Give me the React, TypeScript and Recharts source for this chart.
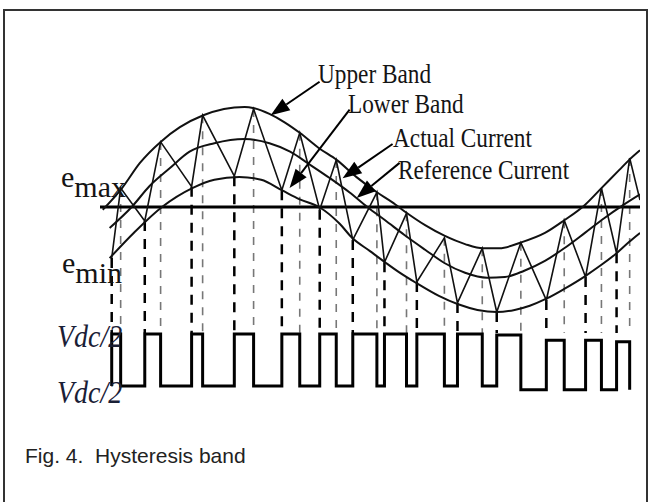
import React from 'react';
import { ComposedChart, Line, XAxis, YAxis, ReferenceLine } from 'recharts';

// x: phase angle in degrees, y: current in A
const upperBand: [number, number][] = [
  [-13, -0.4], [1, 2.7], [14, 6.3], [29, 9.3], [43, 11.4], [60, 13.1], [75, 14.0],
  [90, 14.3], [97, 14.1], [108, 13.3], [119, 12.1], [130, 10.6], [144, 8.4], [157, 6.7],
  [171, 4.3], [186, 2.1], [197, 0.7], [208, -0.9], [221, -2.6], [235, -4.1], [250, -5.3],
  [263, -5.9], [275, -5.9], [290, -5.1], [308, -3.7], [322, -1.9], [337, 0.3], [349, 2.7],
  [362, 5.3], [369, 6.7], [377, 8.1],
];

const referenceCurrent: [number, number][] = [
  [-8, -3.0], [8, 0], [21, 3.0], [36, 5.6], [50, 7.9], [68, 9.1], [90, 9.7], [108, 9.1],
  [123, 7.9], [137, 6.1], [152, 4.1], [166, 2.1], [179, 0], [192, -1.9], [206, -4.0],
  [221, -6.1], [235, -8.0], [250, -9.4], [266, -10.1], [279, -10.0], [293, -9.1],
  [308, -7.7], [322, -5.9], [337, -3.7], [351, -1.6], [365, 0.3], [377, 1.8],
];

const lowerBand: [number, number][] = [
  [-8, -7.3], [10, -3.6], [30, 0], [52, 2.7], [68, 3.9], [86, 4.3], [102, 3.9], [117, 2.4],
  [130, 1.1], [144, 0], [159, -2.4], [168, -4.4], [181, -6.3], [192, -7.9], [202, -9.3],
  [215, -10.9], [231, -12.7], [245, -13.9], [259, -14.7], [273, -15.0], [286, -14.7],
  [297, -14.1], [309, -13.1], [322, -11.7], [337, -9.9], [348, -8.4], [360, -6.6],
  [369, -5.0], [377, -3.7],
];

// actual current: alternating lower / upper switching points
const actualCurrent: [number, number][] = [
  [-6.5, -7.3], [0, 2.7], [17.5, -2.0], [29, 9.3], [51.5, 2.9], [59.5, 13.1], [82.5, 4.4],
  [96.5, 14.0], [117, 2.4], [130, 10.6], [144.5, -0.4], [156.5, 6.7], [168.5, -4.7],
  [186, 2.1], [191.5, -7.9], [207.5, -0.9], [215, -10.7], [235, -4.4], [244.5, -13.7],
  [262.5, -5.9], [273, -15.0], [290.5, -5.1], [309, -13.3], [322, -1.9], [337.5, -10.0],
  [349, 2.7], [360, -6.6], [369.5, 7.0], [377, 1.0],
];

// inverter output (1 = +Vdc/2, 0 = -Vdc/2)
const switchState: [number, number][] = [
  [-6.5, 0], [-6.5, 1], [0, 0], [17.5, 1], [29, 0], [51.5, 1], [59.5, 0], [82.5, 1],
  [96.5, 0], [117, 1], [130, 0], [144.5, 1], [156.5, 0], [168.5, 1], [186, 0], [191.5, 1],
  [207.5, 0], [215, 1], [235, 0], [244.5, 1], [262.5, 0], [273, 0.98], [290.5, -0.07],
  [309, 0.88], [322, -0.07], [337.5, 0.88], [349, -0.07], [360, 0.85], [369.5, -0.07],
];

const DROP_TO = -18;

const toPts = (arr: [number, number][]) => arr.map(([x, v]) => ({ x, v }));

const Arrow = (props: any) => {
  const { x1, y1, x2, y2 } = props;
  const a = Math.atan2(y2 - y1, x2 - x1);
  const len = 19;
  const hw = 7;
  const bx = x2 - len * Math.cos(a);
  const by = y2 - len * Math.sin(a);
  const pts = `${x2},${y2} ${bx + hw * Math.sin(a)},${by - hw * Math.cos(a)} ${bx - hw * Math.sin(a)},${by + hw * Math.cos(a)}`;
  return (
    <g>
      <line x1={x1} y1={y1} x2={bx} y2={by} stroke="#000" strokeWidth={2} />
      <polygon points={pts} fill="#000" />
    </g>
  );
};

const arrows = [
  { from: [144.4, 17.9], to: [108.9, 13.1] },
  { from: [166.2, 13.9], to: [122.6, 2.7] },
  { from: [197.4, 9.0], to: [161.1, 4.1] },
  { from: [202.5, 6.3], to: [171.3, 1.3] },
];

const labels = [
  { text: 'Upper Band', x: 318, y: 83 },
  { text: 'Lower Band', x: 348, y: 113 },
  { text: 'Actual Current', x: 393, y: 147 },
  { text: 'Reference Current', x: 398, y: 179 },
];

const serif = '"Liberation Serif", "DejaVu Serif", serif';

export default function App() {
  return (
    <div style={{ position: 'relative', width: 650, height: 502, background: '#fff', overflow: 'hidden' }}>
      <style>{'body{margin:0}'}</style>
      <ComposedChart width={650} height={502} margin={{ top: 60, right: 10, bottom: 92, left: 100 }}>
        <XAxis type="number" dataKey="x" domain={[-15, 377]} hide allowDataOverflow />
        <YAxis yAxisId="i" type="number" domain={[-29, 21]} hide allowDataOverflow />
        <YAxis yAxisId="s" type="number" domain={[-0.4615, 6.269]} hide allowDataOverflow />

        {actualCurrent.slice(0, -1).map(([x, v], k) => (
          <ReferenceLine
            key={'d' + k}
            yAxisId="i"
            segment={[{ x, y: v }, { x, y: DROP_TO }]}
            stroke={k % 2 === 0 ? '#000' : '#777'}
            strokeWidth={k % 2 === 0 ? 2.5 : 1.6}
            strokeDasharray={k % 2 === 0 ? '10 8' : '8 8'}
          />
        ))}

        <ReferenceLine yAxisId="i" y={0} stroke="#000" strokeWidth={3} />

        <Line yAxisId="i" data={toPts(upperBand)} dataKey="v" type="monotone" stroke="#111" strokeWidth={2} dot={false} activeDot={false} isAnimationActive={false} />
        <Line yAxisId="i" data={toPts(referenceCurrent)} dataKey="v" type="monotone" stroke="#111" strokeWidth={2} dot={false} activeDot={false} isAnimationActive={false} />
        <Line yAxisId="i" data={toPts(lowerBand)} dataKey="v" type="monotone" stroke="#111" strokeWidth={2} dot={false} activeDot={false} isAnimationActive={false} />
        <Line yAxisId="i" data={toPts(actualCurrent)} dataKey="v" type="linear" stroke="#111" strokeWidth={1.6} dot={false} activeDot={false} isAnimationActive={false} />
        <Line yAxisId="s" data={toPts(switchState)} dataKey="v" type="stepAfter" stroke="#000" strokeWidth={3} dot={false} activeDot={false} isAnimationActive={false} />

        {arrows.map((a, k) => (
          <ReferenceLine
            key={'a' + k}
            yAxisId="i"
            segment={[{ x: a.from[0], y: a.from[1] }, { x: a.to[0], y: a.to[1] }]}
            shape={Arrow}
          />
        ))}
      </ComposedChart>

      <svg width={650} height={502} style={{ position: 'absolute', left: 0, top: 0, pointerEvents: 'none' }}>
        <line x1={3} y1={10} x2={648} y2={10} stroke="#333" strokeWidth={2} />
        <line x1={4} y1={10} x2={4} y2={502} stroke="#333" strokeWidth={2} />
        <line x1={647} y1={10} x2={647} y2={502} stroke="#333" strokeWidth={2} />

        <g fontFamily={serif} fontSize={24} fill="#141414">
          {labels.map((l) => (
            <text key={l.text} transform={`translate(${l.x},${l.y}) scale(0.97,1.1)`}>{l.text}</text>
          ))}
        </g>

        <g fontFamily={serif} fontSize={30} fill="#141414">
          <text x={61} y={187}>e<tspan dy={10}>max</tspan></text>
          <text x={62} y={273}>e<tspan dy={10}>min</tspan></text>
        </g>

        <g fontFamily={serif} fontSize={28} fontStyle="italic" fill="#1a2036">
          <text transform="translate(57,347) scale(1,1.15)">Vdc/2</text>
          <text transform="translate(57,403) scale(1,1.15)">Vdc/2</text>
        </g>

        <text x={25} y={463} fontFamily='"Liberation Sans", Arial, sans-serif' fontSize={21} fill="#222" style={{ whiteSpace: 'pre' }}>
          {'Fig. 4.  Hysteresis band'}
        </text>
      </svg>
    </div>
  );
}
